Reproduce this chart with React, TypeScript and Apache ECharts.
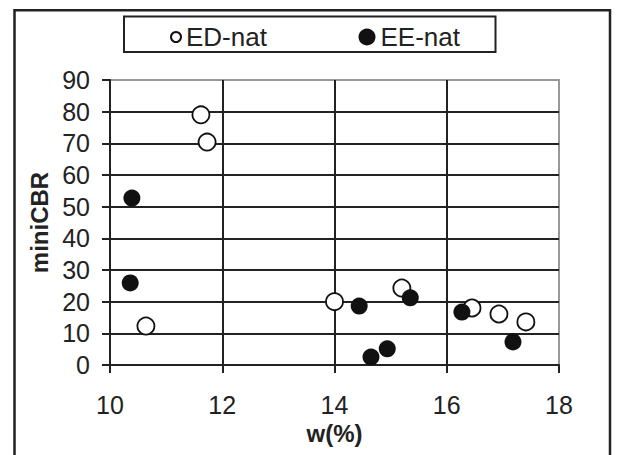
import React, { useEffect, useRef } from "react";
import * as echarts from "echarts";

const edX = [11.62, 11.73, 10.64, 14.0, 15.2, 16.45, 16.93, 17.41];
const edY = [79, 70.4, 12.3, 20, 24.3, 18, 16.1, 13.6];
const eeX = [10.39, 10.36, 14.44, 15.35, 14.65, 14.94, 16.27, 17.18];
const eeY = [52.7, 25.9, 18.6, 21.2, 2.5, 5.1, 16.7, 7.3];
const seriesNames = ["ED-nat", "EE-nat"];
const xTitle = "w(%)";
const yTitle = "miniCBR";

const FONT = "'Liberation Sans', Arial, sans-serif";
const DARK = "#222";

export default function App() {
  const ref = useRef<HTMLDivElement>(null);
  useEffect(() => {
    if (!ref.current) return;
    const chart = echarts.init(ref.current, undefined, { renderer: "svg" });
    const axisCommon = {
      type: "value" as const,
      axisLine: { show: true, onZero: false, lineStyle: { color: DARK, width: 2 } },
      axisTick: { show: true, inside: false, length: 8, lineStyle: { color: DARK, width: 2 } },
      splitLine: { show: true, showMinLine: false, showMaxLine: false, lineStyle: { color: DARK, width: 2 } },
      axisLabel: { fontSize: 25, color: DARK, fontFamily: FONT },
      nameLocation: "middle" as const,
      nameTextStyle: { fontSize: 24, fontWeight: "bold" as const, color: DARK, fontFamily: FONT },
    };
    chart.setOption({
      animation: false,
      backgroundColor: "#fff",
      textStyle: { fontFamily: FONT },
      grid: {
        left: 110,
        right: 58,
        top: 80,
        bottom: 90,
        show: true,
        borderColor: "#999",
        borderWidth: 2,
        backgroundColor: "transparent",
      },
      graphic: [
        {
          type: "rect",
          shape: { x: 14.5, y: 10.3, width: 595.5, height: 460 },
          style: { fill: "none", stroke: DARK, lineWidth: 2.5 },
          silent: true,
        },
        {
          type: "rect",
          shape: { x: 124, y: 16.5, width: 371.5, height: 35.5 },
          style: { fill: "none", stroke: DARK, lineWidth: 2 },
          silent: true,
        },
      ],
      legend: [
        {
          data: [seriesNames[0]],
          left: 170,
          top: 24,
          padding: 0,
          itemWidth: 10,
          itemHeight: 10,
          itemGap: 0,
          icon: "circle",
          textStyle: { fontSize: 26, color: DARK, fontFamily: FONT },
        },
        {
          data: [seriesNames[1]],
          left: 358.5,
          top: 24,
          padding: 0,
          itemWidth: 17,
          itemHeight: 17,
          icon: "circle",
          textStyle: { fontSize: 26, color: DARK, fontFamily: FONT },
        },
      ],
      xAxis: {
        ...axisCommon,
        min: 10,
        max: 18,
        interval: 2,
        name: xTitle,
        nameGap: 55,
        axisLabel: { ...axisCommon.axisLabel, margin: 27 },
      },
      yAxis: {
        ...axisCommon,
        min: 0,
        max: 90,
        interval: 10,
        name: yTitle,
        nameGap: 57,
        axisLabel: { ...axisCommon.axisLabel, margin: 20 },
      },
      series: [
        {
          name: seriesNames[0],
          type: "scatter",
          symbol: "circle",
          symbolSize: 17,
          itemStyle: { color: "#fff", borderColor: "#111", borderWidth: 1.8, opacity: 1 },
          data: edX.map((x, i) => [x, edY[i]]),
        },
        {
          name: seriesNames[1],
          type: "scatter",
          symbol: "circle",
          symbolSize: 17,
          itemStyle: { color: "#111", opacity: 1 },
          data: eeX.map((x, i) => [x, eeY[i]]),
        },
      ],
    });
    return () => chart.dispose();
  }, []);
  return (
    <div
      ref={ref}
      style={{ position: "fixed", left: 0, top: 0, width: 617, height: 455, background: "#fff" }}
    />
  );
}
